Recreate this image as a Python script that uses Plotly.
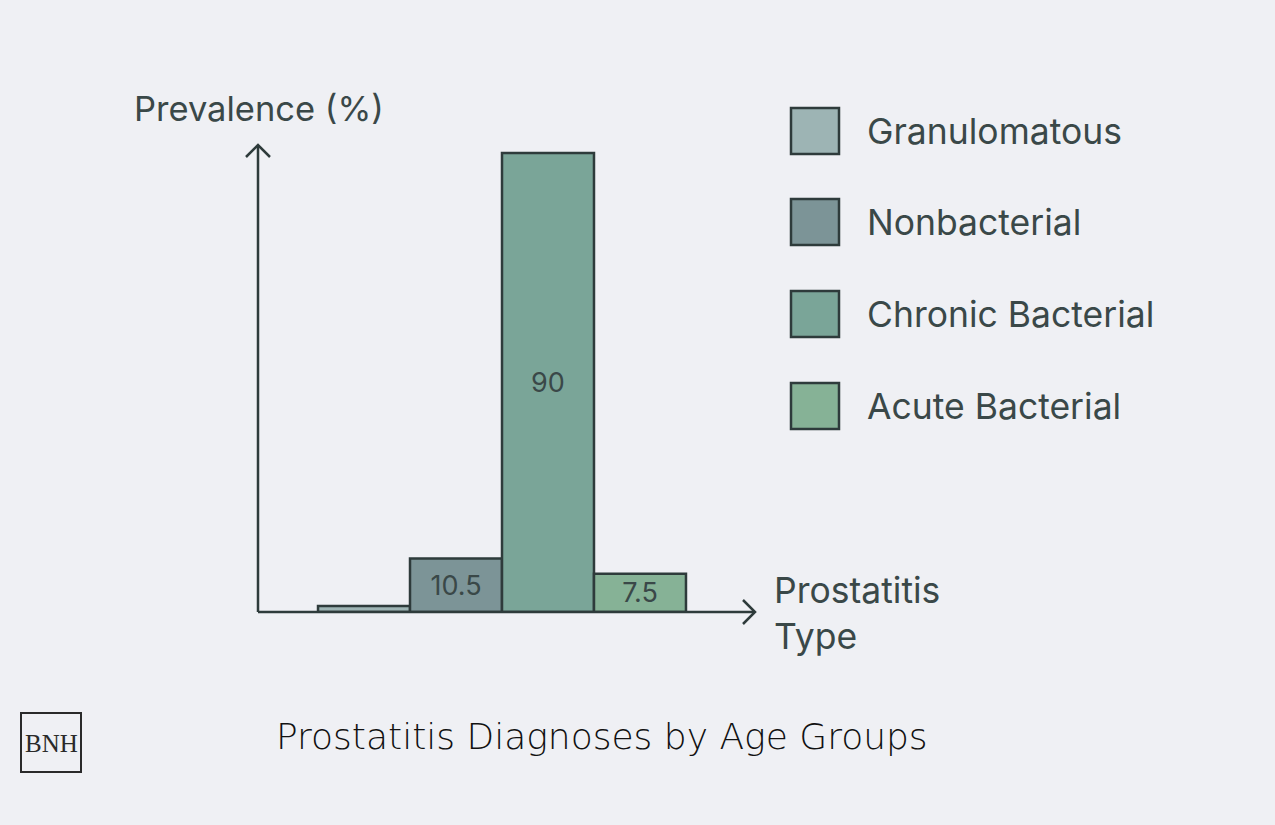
import plotly.graph_objects as go

categories = ["Prostatitis"]
types = ["Granulomatous", "Nonbacterial", "Chronic Bacterial", "Acute Bacterial"]
values = [1.2, 10.5, 90, 7.5]
colors = ["#9db4b4", "#7c9497", "#7aa598", "#86b296"]

BG = "#eff0f4"
INK = "#2e3b3b"
TXT = "#3a4848"
FONT = "Inter"

# plot area in pixels
L, R, T, B = 258, 746, 145, 612
W, H = 1275, 825

def px(x):
    return (x - L) / (R - L)

def py(y):
    return (B - y) / (B - T)

fig = go.Figure()
for name, v, c in zip(types, values, colors):
    fig.add_trace(go.Bar(
        x=categories, y=[v], name=name,
        marker=dict(color=c, line=dict(color=INK, width=2.5)),
        text=[f"{v:g}" if v >= 5 else ""], textposition="inside", insidetextanchor="middle",
        constraintext="none",
        textfont=dict(family=FONT, size=27, color=TXT),
        showlegend=False,
    ))

shapes = []
# y axis with arrow
shapes.append(dict(type="line", xref="paper", yref="paper", x0=0, x1=0, y0=0, y1=1,
                   line=dict(color=INK, width=2.5)))
shapes.append(dict(type="path", xref="paper", yref="paper",
                   path=f"M {px(246)} {py(157)} L {px(258)} {py(145)} L {px(270)} {py(157)}",
                   line=dict(color=INK, width=2.5)))
# x axis with arrow
shapes.append(dict(type="line", xref="paper", yref="paper", x0=0, x1=px(755), y0=0, y1=0,
                   line=dict(color=INK, width=2.5)))
shapes.append(dict(type="path", xref="paper", yref="paper",
                   path=f"M {px(743)} {py(600)} L {px(755)} {py(612)} L {px(743)} {py(624)}",
                   line=dict(color=INK, width=2.5)))

annotations = []
annotations.append(dict(text="Prevalence (%)", xref="paper", yref="paper",
                        x=px(132), y=py(108), xanchor="left", yanchor="middle",
                        showarrow=False, font=dict(family=FONT, size=34.5, color=TXT)))
annotations.append(dict(text="Prostatitis<br>Type", xref="paper", yref="paper",
                        x=px(772), y=py(613), xanchor="left", yanchor="middle", align="left",
                        showarrow=False, font=dict(family=FONT, size=35.5, color=TXT)))

# custom legend
leg_y = [131, 222, 314, 406]
for name, c, yy in zip(types, colors, leg_y):
    shapes.append(dict(type="rect", xref="paper", yref="paper",
                       x0=px(791), x1=px(839), y0=py(yy - 23), y1=py(yy + 23),
                       fillcolor=c, line=dict(color=INK, width=2.5)))
    annotations.append(dict(text=name, xref="paper", yref="paper",
                            x=px(865), y=py(yy), xanchor="left", yanchor="middle",
                            showarrow=False, font=dict(family=FONT, size=35.5, color=TXT)))

# title
annotations.append(dict(text="Prostatitis Diagnoses by Age Groups", xref="paper", yref="paper",
                        x=px(602), y=py(736), xanchor="center", yanchor="middle",
                        showarrow=False,
                        font=dict(family="DejaVu Sans", size=36, color="#111111", weight=300)))
# logo
shapes.append(dict(type="rect", xref="paper", yref="paper",
                   x0=px(21), x1=px(81), y0=py(713), y1=py(772),
                   line=dict(color="#2a2a2a", width=2)))
annotations.append(dict(text="BNH", xref="paper", yref="paper",
                        x=px(51), y=py(743), xanchor="center", yanchor="middle",
                        showarrow=False,
                        font=dict(family="Liberation Serif", size=25, color="#2a2a2a")))

fig.update_layout(
    width=W, height=H,
    margin=dict(l=L, r=W - R, t=T, b=H - B, pad=0),
    paper_bgcolor=BG, plot_bgcolor=BG,
    barmode="group", bargap=0.246, bargroupgap=0,
    xaxis=dict(showticklabels=False, showgrid=False, zeroline=False, showline=False,
               ticks="", range=[-0.5, 0.5]),
    yaxis=dict(range=[0, (B - T) / 5.1], showticklabels=False, showgrid=False,
               zeroline=False, showline=False, ticks=""),
    shapes=shapes, annotations=annotations,
)

fig.write_html("out.html")
